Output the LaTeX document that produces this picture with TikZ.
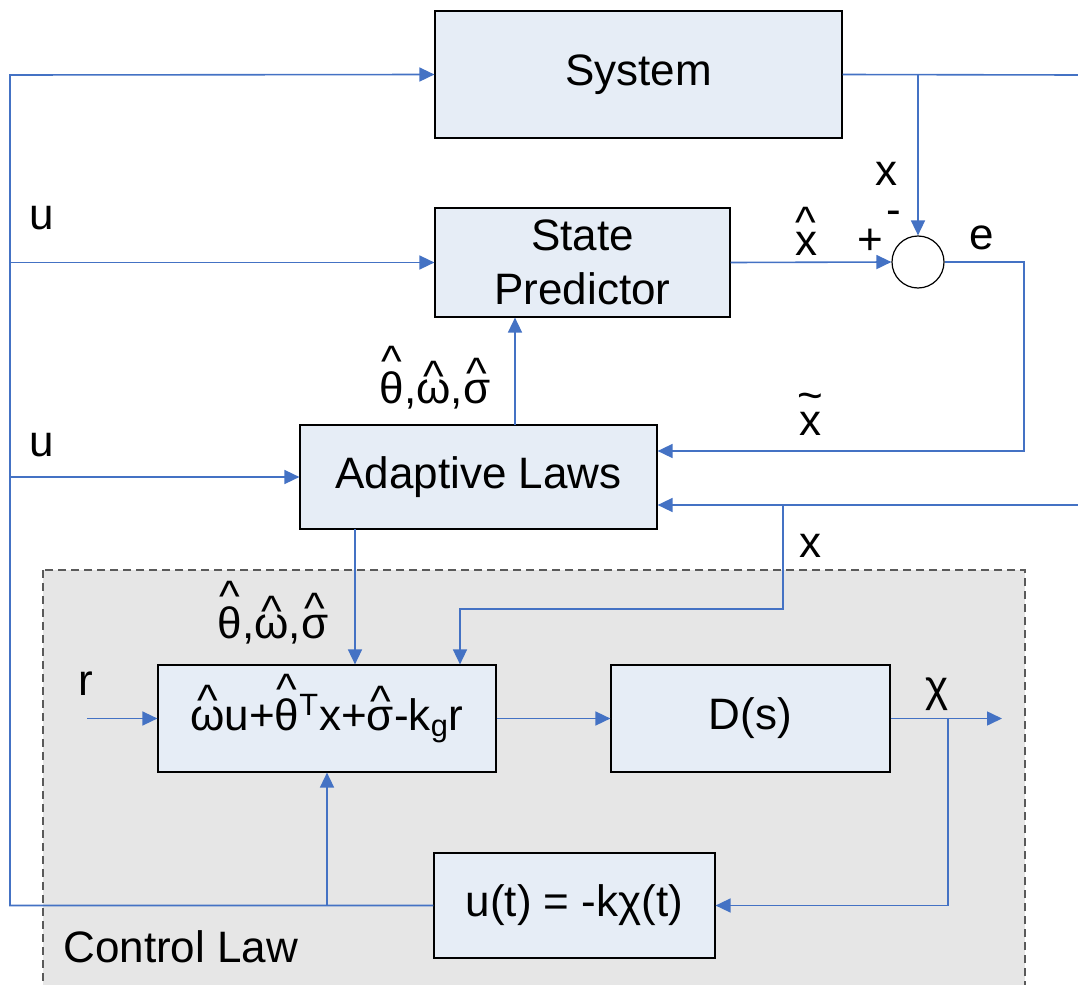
\documentclass[tikz,border=0pt]{standalone}
\usepackage{fontspec}
\setmainfont{Liberation Sans}
\usetikzlibrary{arrows.meta,calc}

\definecolor{lineblue}{RGB}{68,114,196}
\definecolor{boxblue}{RGB}{230,237,246}
\definecolor{regiongray}{RGB}{230,230,230}
\definecolor{dashgray}{RGB}{90,90,90}

% caret and tilde set above a letter
\newcommand\hatted[2][0.12em]{{\setbox0\hbox{#2}\ooalign{\copy0\cr\hidewidth\raisebox{\dimexpr\ht0+#1-0.33em\relax}{\textasciicircum}\hidewidth\cr}}}
\newcommand\tilded[2][0.3em]{{\setbox0\hbox{#2}\ooalign{\copy0\cr\hidewidth\raisebox{\dimexpr\ht0+#1-0.27em\relax}{\textasciitilde}\hidewidth\cr}}}

\begin{document}
\begin{tikzpicture}[x=0.5pt,y=-0.5pt,
  every node/.style={font=\fontsize{22}{27}\selectfont},
  block/.style={draw=black,line width=0.6pt,fill=boxblue,inner sep=0pt},
  signal/.style={draw=lineblue,line width=0.8pt},
  flow/.style={signal,-{Triangle[length=7.5pt,width=7pt]}}]
\clip (0,0) rectangle (1078,985);

% control law region
\draw [dashgray,line width=0.6pt,dash pattern=on 4pt off 2.5pt,fill=regiongray] (43,570) rectangle (1025,1010);
\node[anchor=base west,inner sep=0pt] (lawlbl) at (63,962) {Control Law};

% blocks
\node[block,minimum width=203.5pt,minimum height=63.5pt] (sys) at (638.5,74.5) {System};
\node[block,minimum width=147.5pt,minimum height=54.5pt,align=center] (pred) at (582.5,262.5) {State\\Predictor};
\node[block,minimum width=178.5pt,minimum height=52pt] (adapt) at (478.5,477) {Adaptive Laws};
\node[block,minimum width=169pt,minimum height=53.5pt] (ctrl) at (327,718.5)
  {\hatted{ω}u+\hatted[0.2em]{θ}\textsuperscript{T}x+\hatted{σ}-k\textsubscript{g}r};
\node[block,minimum width=139.5pt,minimum height=53.5pt] (dyn) at (750.5,718.5) {D(s)};
\node[block,minimum width=140.5pt,minimum height=52.5pt] (law) at (574.5,905.5) {u(t) = -kχ(t)};
\node[circle,draw=black,line width=0.6pt,fill=white,minimum size=26pt,inner sep=0pt] (sum) at (918,262) {};

% free ends and branch points
\coordinate (top) at (10,75);
\coordinate (sysout) at (1078,75);
\coordinate (err) at (1024,451);
\coordinate (xin) at (1078,505);
\coordinate (xtap) at (783,505);
\coordinate (xdrop) at (460,609);
\coordinate (est) at (515,425);
\coordinate (est2) at (355,529);
\coordinate (ref) at (87,718.5);
\coordinate (out) at (1002,718.5);
\coordinate (chitap) at (948,718.5);

% input u
\draw[flow] (law.west) -| (top) -- (sys.west);
\draw[flow] (top |- pred.west) -- (pred.west);
\draw[flow] (top |- adapt.west) -- (adapt.west);
\draw[flow] (ctrl.south |- law.west) -- (ctrl.south);

% state x and error
\draw[signal] (sys.east) -- (sysout);
\draw[flow] (sum.north |- sysout) -- (sum.north);
\draw[flow] (pred.east) -- (sum.west);
\draw[flow] (sum.east) -| (err) -- (err -| adapt.east);
\draw[flow] (xin) -- (xin -| adapt.east);
\draw[flow] (xtap) |- (xdrop) -- (xdrop |- ctrl.north);

% estimates
\draw[flow] (est) -- (est |- pred.south);
\draw[flow] (est2) -- (est2 |- ctrl.north);

% control loop
\draw[flow] (ref) -- (ctrl.west);
\draw[flow] (ctrl) -- (dyn);
\draw[flow] (dyn.east) -- (out);
\draw[flow] (chitap) |- (law.east);

% signal labels
\node (u1) at (42,218) {u};
\node (u2) at (42,445) {u};
\node[anchor=base] (xs) at (886,185) {x};
\node (minus) at (894,218) {-};
\node (plus) at (870,242) {+};
\node[anchor=base] (xhat) at (806,255) {\hatted[0.2em]{x}};
\node (e) at (982,238) {e};
\node[anchor=base] (xtil) at (810,435) {\tilded{x}};
\node[anchor=base] (xa) at (810,557) {x};
\node[anchor=base] (est1lbl) at (435,403) {\hatted[0.2em]{θ},\hatted[0.06em]{ω},\hatted{σ}};
\node[anchor=base] (est2lbl) at (273,638) {\hatted[0.2em]{θ},\hatted[0.06em]{ω},\hatted{σ}};
\node (r) at (86,684) {r};
\node (chi) at (937,694) {χ};
\end{tikzpicture}
\end{document}
